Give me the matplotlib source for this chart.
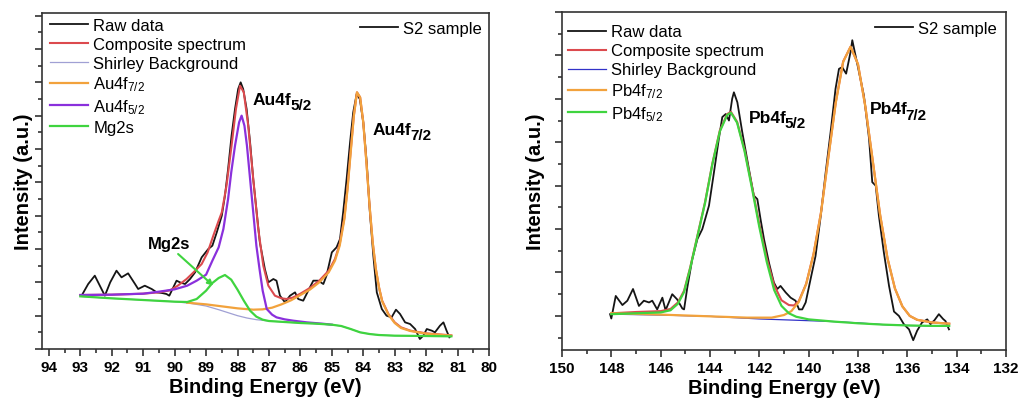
import matplotlib
matplotlib.use("Agg")
import matplotlib.pyplot as plt
from matplotlib.lines import Line2D
from matplotlib.ticker import MultipleLocator
from matplotlib.transforms import offset_copy

plt.rcParams['font.family'] = ['Liberation Sans', 'DejaVu Sans']
plt.rcParams['mathtext.fontset'] = 'custom'
plt.rcParams['mathtext.rm'] = 'Liberation Sans'
plt.rcParams['mathtext.it'] = 'Liberation Sans:italic'
plt.rcParams['mathtext.bf'] = 'Liberation Sans:bold'

# ---------------------------------------------------------------------------
# Au 4f region (left panel), intensity in arbitrary units
# ---------------------------------------------------------------------------
au_raw_e = [92.96, 92.75, 92.54, 92.38, 92.22, 92.05, 91.85, 91.69, 91.48, 91.26,
            91.16, 90.95, 90.73, 90.57, 90.40, 90.26, 90.17, 89.94, 89.83, 89.67,
            89.51, 89.35, 89.14, 88.93, 88.80, 88.66, 88.50, 88.40, 88.30, 88.19,
            88.08, 87.98, 87.90, 87.82, 87.71, 87.60, 87.50, 87.39, 87.29, 87.13,
            87.02, 86.86, 86.76, 86.65, 86.49, 86.33, 86.17, 86.07, 85.91, 85.75,
            85.59, 85.43, 85.27, 85.17, 85.00, 84.85, 84.74, 84.64, 84.53, 84.42,
            84.32, 84.21, 84.11, 84.00, 83.89, 83.79, 83.68, 83.57, 83.41, 83.26,
            83.10, 82.96, 82.83, 82.67, 82.51, 82.35, 82.20, 82.09, 81.98, 81.82,
            81.72, 81.56, 81.45, 81.35, 81.26]
au_raw_i = [16.0, 19.5, 22.0, 19.0, 16.0, 20.0, 23.5, 21.5, 22.7, 19.5,
            18.0, 19.0, 18.0, 17.0, 16.8, 16.5, 16.0, 20.5, 20.0, 19.5,
            21.0, 23.0, 27.5, 30.0, 31.0, 35.0, 40.0, 46.0, 54.0, 64.0,
            72.0, 78.0, 80.0, 78.0, 72.0, 62.0, 51.0, 41.0, 32.0, 24.0,
            20.0, 21.0, 20.5, 16.0, 14.0, 16.0, 17.0, 15.0, 14.5, 17.5,
            20.5, 20.5, 19.5, 22.0, 29.0, 30.5, 33.0, 41.0, 51.0, 62.0,
            71.0, 76.5, 75.0, 68.0, 56.0, 41.0, 28.0, 17.0, 12.0, 10.0,
            9.5, 11.8, 10.5, 8.0, 7.5, 6.0, 3.0, 4.0, 6.0, 5.5,
            5.0, 7.0, 8.0, 5.5, 3.5]

au_comp_e = [93.0, 92.0, 91.0, 90.5, 90.15, 89.9, 89.62, 89.4, 89.14, 88.95,
             88.77, 88.6, 88.5, 88.35, 88.19, 88.05, 87.92, 87.8, 87.66, 87.5,
             87.34, 87.18, 87.02, 86.81, 86.6, 86.44, 86.25, 86.0, 85.7, 85.4,
             85.1, 84.9, 84.75, 84.6, 84.5, 84.4, 84.3, 84.2, 84.1, 84.0,
             83.9, 83.8, 83.7, 83.6, 83.5, 83.4, 83.2, 83.0, 82.8, 82.5,
             82.0, 81.2]
au_comp_i = [16.2, 16.3, 16.6, 17.0, 17.6, 19.0, 21.0, 23.0, 25.5, 29.0,
             34.0, 38.5, 41.0, 49.0, 61.0, 72.0, 79.0, 77.0, 67.0, 51.0,
             36.0, 25.0, 19.0, 16.0, 15.2, 15.0, 15.4, 16.6, 18.3, 20.5,
             23.5, 27.0, 31.5, 39.5, 48.5, 59.5, 70.0, 77.0, 75.5, 68.0,
             56.0, 43.0, 32.0, 24.0, 18.5, 14.5, 10.5, 8.0, 6.5, 5.5,
             4.7, 4.1]

au_bg_e = [93.0, 92.0, 91.0, 90.0, 89.5, 89.0, 88.6, 88.3, 88.0, 87.7,
           87.4, 87.0, 86.5, 86.0, 85.5, 85.0, 84.7, 84.4, 84.1, 83.8,
           83.5, 83.0, 82.0, 81.2]
au_bg_i = [15.8, 15.2, 14.7, 14.2, 13.7, 12.9, 11.8, 10.9, 10.0, 9.3,
           8.8, 8.4, 8.1, 7.8, 7.6, 7.3, 6.9, 6.0, 5.0, 4.5,
           4.2, 4.0, 3.9, 3.8]

au72_e = [89.6, 89.0, 88.5, 88.0, 87.5, 87.2, 86.9, 86.6, 86.3, 86.0,
          85.7, 85.4, 85.1, 84.9, 84.75, 84.6, 84.5, 84.4, 84.3, 84.2,
          84.1, 84.0, 83.9, 83.8, 83.7, 83.6, 83.5, 83.4, 83.2, 83.0,
          82.8, 82.5, 82.0, 81.2]
au72_i = [13.9, 13.4, 12.8, 12.2, 11.8, 11.9, 12.4, 13.4, 14.6, 16.2,
          17.8, 20.0, 23.0, 26.5, 31.0, 39.0, 48.0, 59.0, 70.0, 77.0,
          75.5, 68.0, 56.0, 43.0, 32.0, 24.0, 18.5, 14.3, 10.3, 7.8,
          6.3, 5.4, 4.6, 4.0]

au52_e = [93.0, 92.0, 91.0, 90.5, 90.0, 89.6, 89.3, 89.0, 88.8, 88.6,
          88.45, 88.3, 88.2, 88.08, 87.95, 87.87, 87.78, 87.7, 87.6, 87.5,
          87.4, 87.3, 87.2, 87.07, 86.9, 86.76, 86.5, 86.23, 85.8, 85.3,
          85.0]
au52_i = [16.2, 16.3, 16.6, 17.2, 17.9, 19.0, 20.5, 22.3, 26.5, 30.5,
          36.0, 45.0, 53.0, 61.0, 68.0, 70.0, 67.0, 61.0, 51.0, 41.0,
          31.0, 24.0, 17.5, 12.0, 10.3, 9.5, 8.9, 8.5, 8.0, 7.6,
          7.3]

mg2s_e = [93.0, 92.0, 91.0, 90.0, 89.6, 89.3, 89.0, 88.8, 88.6, 88.4,
          88.2, 88.0, 87.8, 87.6, 87.4, 87.2, 87.0, 86.5, 86.0, 85.5,
          85.0, 84.7, 84.4, 84.1, 83.8, 83.5, 83.0, 82.0, 81.2]
mg2s_i = [15.8, 15.2, 14.7, 14.2, 14.1, 15.0, 17.5, 19.8, 21.3, 22.2,
          20.8, 17.8, 14.5, 11.5, 9.7, 8.8, 8.4, 8.1, 7.8, 7.6,
          7.3, 6.9, 6.0, 5.0, 4.5, 4.2, 4.0, 3.9, 3.8]

# ---------------------------------------------------------------------------
# Pb 4f region (right panel)
# ---------------------------------------------------------------------------
pb_raw_e = [148.05, 148.0, 147.82, 147.55, 147.35, 147.12, 146.88, 146.68, 146.47, 146.34,
            146.14, 145.93, 145.8, 145.53, 145.33, 145.12, 145.05, 144.92, 144.72, 144.51,
            144.31, 144.04, 143.84, 143.64, 143.5, 143.36, 143.23, 143.1, 143.03, 142.89,
            142.69, 142.42, 142.22, 142.08, 141.95, 141.81, 141.61, 141.41, 141.27, 141.14,
            140.93, 140.73, 140.53, 140.39, 140.26, 140.12, 139.92, 139.72, 139.51, 139.31,
            139.11, 138.91, 138.77, 138.64, 138.48, 138.3, 138.23, 138.1, 137.96, 137.76,
            137.55, 137.42, 137.28, 137.15, 136.95, 136.74, 136.54, 136.34, 136.14, 135.93,
            135.76, 135.6, 135.4, 135.19, 135.06, 134.9, 134.72, 134.55, 134.45, 134.31]
pb_raw_i = [10.4, 9.4, 14.6, 12.5, 13.5, 16.2, 12.3, 13.5, 13.1, 13.5,
            11.5, 14.2, 11.3, 15.0, 13.8, 11.7, 11.5, 16.5, 23.0, 27.7,
            30.0, 35.4, 43.0, 50.8, 55.8, 56.5, 55.0, 60.0, 61.5, 59.2,
            52.3, 43.8, 37.7, 36.9, 32.3, 27.7, 22.3, 17.7, 16.2, 16.9,
            15.4, 14.2, 13.5, 11.5, 11.5, 13.1, 18.5, 23.8, 33.0, 43.0,
            52.3, 62.3, 66.9, 67.3, 65.8, 70.8, 73.5, 70.0, 66.2, 60.8,
            50.8, 40.8, 40.0, 33.0, 24.6, 16.9, 11.0, 10.0, 8.1, 6.9,
            4.4, 6.6, 8.5, 9.2, 8.1, 9.0, 10.4, 9.3, 8.8, 6.9]

pb_comp_e = [148.0, 147.0, 146.0, 145.6, 145.3, 145.05, 144.8, 144.5, 144.2, 143.9,
             143.6, 143.3, 143.15, 142.9, 142.6, 142.3, 142.0, 141.7, 141.4, 141.1,
             140.8, 140.6, 140.4, 140.1, 139.8, 139.5, 139.2, 138.9, 138.6, 138.3,
             138.0, 137.7, 137.4, 137.1, 136.8, 136.5, 136.2, 135.9, 135.6, 135.0,
             134.3]
pb_comp_i = [10.6, 10.9, 11.1, 11.6, 13.1, 15.8, 21.2, 28.7, 36.2, 45.2,
             52.7, 56.5, 57.0, 54.7, 48.3, 39.9, 31.1, 23.3, 17.1, 13.6,
             12.5, 12.4, 13.4, 17.4, 24.3, 33.8, 46.6, 59.2, 68.6, 72.0,
             68.0, 58.2, 45.7, 33.2, 23.2, 16.3, 12.2, 10.0, 9.1, 8.5,
             8.2]

pb_bg_e = [148.0, 146.0, 144.0, 143.0, 142.0, 141.0, 140.0, 139.0, 138.0, 137.0,
           136.0, 135.0, 134.3]
pb_bg_i = [10.4, 10.2, 9.9, 9.6, 9.3, 9.1, 8.9, 8.7, 8.4, 8.0,
           7.8, 7.7, 7.7]

pb72_e = [148.0, 146.0, 144.0, 142.5, 141.5, 141.0, 140.7, 140.4, 140.1, 139.8,
          139.5, 139.2, 138.9, 138.6, 138.3, 138.0, 137.7, 137.4, 137.1, 136.8,
          136.5, 136.2, 135.9, 135.6, 135.0, 134.3]
pb72_i = [10.6, 10.3, 9.9, 9.6, 9.6, 10.2, 11.1, 13.2, 17.3, 24.2,
          33.7, 46.5, 59.1, 68.5, 72.0, 68.0, 58.2, 45.7, 33.2, 23.2,
          16.3, 12.2, 10.0, 9.1, 8.5, 8.2]

pb52_e = [148.0, 147.0, 146.0, 145.6, 145.3, 145.05, 144.8, 144.5, 144.2, 143.9,
          143.6, 143.3, 143.15, 142.9, 142.6, 142.3, 142.0, 141.7, 141.4, 141.1,
          140.8, 140.5, 140.0, 139.0, 138.0, 137.0, 136.0, 135.0, 134.3]
pb52_i = [10.4, 10.6, 10.8, 11.3, 12.8, 15.5, 21.0, 28.5, 36.0, 45.0,
          52.5, 56.3, 56.8, 54.5, 48.0, 39.5, 30.5, 22.5, 16.0, 12.3,
          10.6, 9.8, 9.2, 8.7, 8.3, 8.0, 7.8, 7.7, 7.7]

au_ticks = list(range(80, 95))
pb_ticks = list(range(132, 151, 2))

# ---------------------------------------------------------------------------
C_RAW = '#151515'
C_COMP = '#dc4a4e'
C_BG_AU = '#a0a0d4'
C_BG_PB = '#3232c8'
C_ORANGE = '#f2a23c'
C_PURPLE = '#8a30dc'
C_GREEN = '#3fd43f'


def style_axes(ax, xlim, ylim, ticks, minor_step, ymajor, ypad):
    ax.set_xlim(*xlim)
    ax.set_ylim(*ylim)
    ax.set_xticks(ticks)
    ax.xaxis.set_minor_locator(MultipleLocator(minor_step))
    ax.yaxis.set_major_locator(MultipleLocator(ymajor))
    ax.yaxis.set_minor_locator(MultipleLocator(ymajor / 2))
    ax.set_yticklabels([])
    ax.tick_params(which='both', direction='out', top=False, right=False,
                   width=1.1, color='#222222')
    ax.tick_params(which='major', length=5)
    ax.tick_params(which='minor', length=3)
    ax.tick_params(axis='x', labelsize=11, pad=3)
    for lab in ax.get_xticklabels():
        lab.set_fontweight('bold')
    for sp in ax.spines.values():
        sp.set_linewidth(1.2)
        sp.set_color('#333333')
    ax.set_xlabel('Binding Energy (eV)', fontsize=14.5, fontweight='bold', labelpad=2)
    ax.set_ylabel('Intensity (a.u.)', fontsize=14.5, fontweight='bold', labelpad=ypad)


def add_legends(ax, anchor_main, anchor_s2):
    leg = ax.legend(loc='upper left', bbox_to_anchor=anchor_main, frameon=False,
                    fontsize=12, handlelength=2.3, handletextpad=0.3,
                    labelspacing=0.24, borderpad=0, borderaxespad=0)
    ax.add_artist(leg)
    proxy = Line2D([], [], color=C_RAW, lw=1.3)
    ax.legend([proxy], ['S2 sample'], loc='upper right', bbox_to_anchor=anchor_s2,
              frameon=False, fontsize=12, handlelength=2.3, handletextpad=0.3,
              borderpad=0, borderaxespad=0)


def peak_label(ax, x, y, main, sub, sub_dx):
    ax.text(x, y, main, fontsize=12.5, fontweight='bold', ha='left', va='center')
    tr = offset_copy(ax.transData, fig=ax.figure, x=sub_dx, y=-6, units='dots')
    ax.text(x, y, sub, fontsize=11, fontweight='bold', ha='left', va='center',
            transform=tr)


fig = plt.figure(figsize=(10.19, 4.06), dpi=100)
ax1 = fig.add_axes([0.0412, 0.1379, 0.4387, 0.8276])
ax2 = fig.add_axes([0.5515, 0.1355, 0.4357, 0.8325])

# left panel
ax1.plot(au_raw_e, au_raw_i, color=C_RAW, lw=1.3, label='Raw data')
ax1.plot(au_comp_e, au_comp_i, color=C_COMP, lw=1.5, label='Composite spectrum')
ax1.plot(au_bg_e, au_bg_i, color=C_BG_AU, lw=0.9, label='Shirley Background')
ax1.plot(au72_e, au72_i, color=C_ORANGE, lw=1.6, label=r'Au4f$_{7/2}$')
ax1.plot(au52_e, au52_i, color=C_PURPLE, lw=1.6, label=r'Au4f$_{5/2}$')
ax1.plot(mg2s_e, mg2s_i, color=C_GREEN, lw=1.6, label='Mg2s')
style_axes(ax1, (94.22, 80), (0, 100.8), au_ticks, 0.5, 10, -2)
add_legends(ax1, (8 / 447, 1 - 4.5 / 336), (1 - 7 / 447, 1 - 7.5 / 336))

peak_label(ax1, 87.51, 75, 'Au4f', '5/2', 38)
peak_label(ax1, 83.72, 66, 'Au4f', '7/2', 38)
ax1.text(90.85, 31.8, 'Mg2s', fontsize=12, fontweight='bold', ha='left', va='center')
ax1.annotate('', xy=(88.77, 19.0), xytext=(89.89, 28.5),
             arrowprops=dict(arrowstyle='-|>', color=C_GREEN, lw=1.5,
                             mutation_scale=8, shrinkA=0, shrinkB=0))

# right panel
ax2.plot(pb_raw_e, pb_raw_i, color=C_RAW, lw=1.3, label='Raw data')
ax2.plot(pb_comp_e, pb_comp_i, color=C_COMP, lw=1.5, label='Composite spectrum')
ax2.plot(pb_bg_e, pb_bg_i, color=C_BG_PB, lw=0.9, label='Shirley Background')
ax2.plot(pb72_e, pb72_i, color=C_ORANGE, lw=1.6, label=r'Pb4f$_{7/2}$')
ax2.plot(pb52_e, pb52_i, color=C_GREEN, lw=1.6, label=r'Pb4f$_{5/2}$')
style_axes(ax2, (150, 132), (2.15, 80), pb_ticks, 1, 10, 4)
add_legends(ax2, (6 / 444, 1 - 12.5 / 338), (1 - 9 / 444, 1 - 9 / 338))

peak_label(ax2, 142.42, 55.8, 'Pb4f', '5/2', 36)
peak_label(ax2, 137.52, 57.7, 'Pb4f', '7/2', 36)

fig.savefig('out.png', dpi=100)
